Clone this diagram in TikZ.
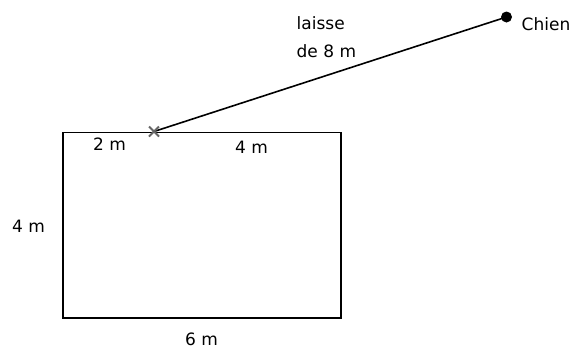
\documentclass[tikz,border=0pt]{standalone}
\usepackage{fontspec}
\setmainfont{DejaVu Sans}
\begin{document}
\begin{tikzpicture}[x=1pt,y=-1pt,
  lbl/.style={inner sep=0pt,anchor=base west,font=\fontsize{17}{20}\selectfont},
  cross/.style={draw=black!60,line width=1.8pt}]
\useasboundingbox (0,0) rectangle (579,349);
\node[draw,line width=1.6pt,minimum width=278pt,minimum height=185.5pt,inner sep=0pt,anchor=north west] (yard) at (62,131.5) {};
\coordinate (att) at (154,131.5);
\node[circle,fill=black,inner sep=0pt,minimum size=11pt] (dog) at (506.5,17) {};
\draw[line width=1.6pt] (att) -- (dog.center);
\draw[cross] ([shift={(-5,-5)}]att) -- ([shift={(5,5)}]att)
             ([shift={(-5,5)}]att) -- ([shift={(5,-5)}]att);
\node[lbl] (l1) at (296.5,29) {laisse};
\node[lbl] (l2) at (296.5,57) {de 8 m};
\node[lbl] (chien) at (521.5,30) {Chien};
\node[lbl] (a) at (93,150) {2 m};
\node[lbl] (b) at (235,153) {4 m};
\node[lbl] (c) at (12,232) {4 m};
\node[lbl] (d) at (185,345) {6 m};
\end{tikzpicture}
\end{document}
